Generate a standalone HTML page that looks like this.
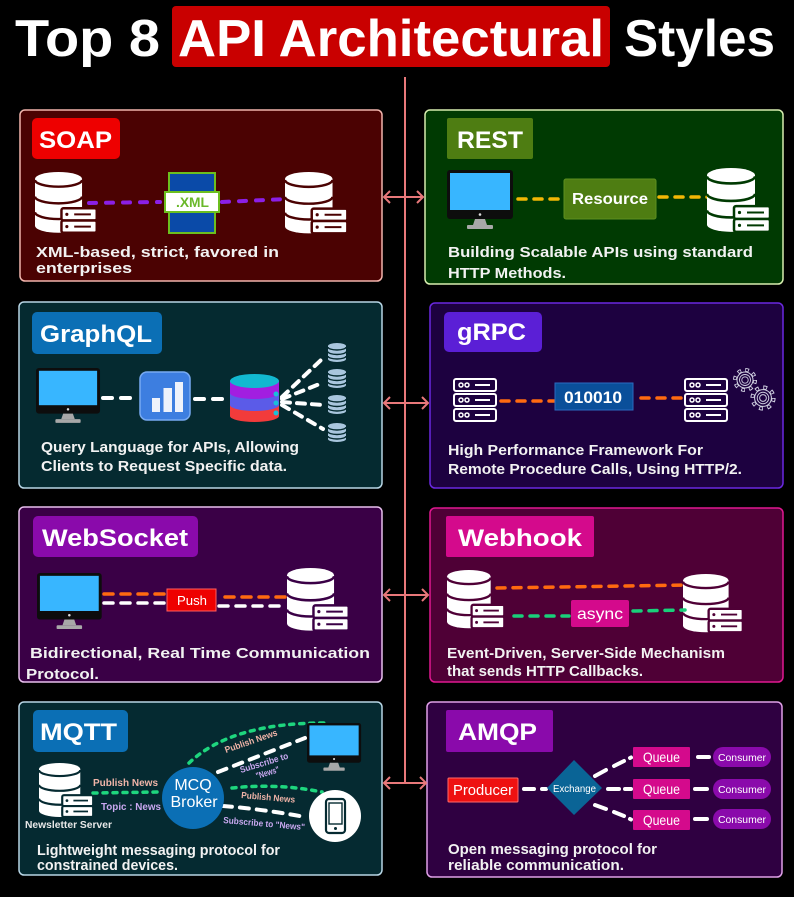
<!DOCTYPE html>
<html><head><meta charset="utf-8">
<style>
html,body{margin:0;padding:0;background:#000;}
svg{display:block;}
text{font-family:"Liberation Sans",Arial,sans-serif;}
</style></head><body>
<svg width="794" height="897" viewBox="0 0 794 897" xmlns="http://www.w3.org/2000/svg">
<defs>
 <g id="db">
  <path d="M0,7 A24,7 0 0 1 48,7 L48,55 A24,7 0 0 1 0,55 Z" fill="#fff"/>
  <path d="M0,8 A24,7 0 0 0 48,8" fill="none" stroke="currentColor" stroke-width="2.5"/>
  <path d="M0,25 A24,7 0 0 0 48,25" fill="none" stroke="currentColor" stroke-width="2.5"/>
  <path d="M0,41 A24,7 0 0 0 48,41" fill="none" stroke="currentColor" stroke-width="2.5"/>
  <rect x="27" y="37" width="36" height="12.5" rx="2" fill="#fff" stroke="currentColor" stroke-width="2.5"/>
  <rect x="27" y="49.5" width="36" height="12.5" rx="2" fill="#fff" stroke="currentColor" stroke-width="2.5"/>
  <circle cx="32.5" cy="43.2" r="1.6" fill="currentColor"/>
  <circle cx="32.5" cy="55.7" r="1.6" fill="currentColor"/>
  <line x1="40" y1="43.2" x2="57" y2="43.2" stroke="currentColor" stroke-width="2"/>
  <line x1="40" y1="55.7" x2="57" y2="55.7" stroke="currentColor" stroke-width="2"/>
 </g>
 <g id="mon">
  <rect x="0" y="0" width="66" height="49" rx="3" fill="#0d0d0d"/>
  <rect x="3" y="3" width="60" height="37" fill="#38b6ff"/>
  <circle cx="33" cy="44.5" r="1.3" fill="#ddd"/>
  <path d="M28,49 L38,49 L40,55 L26,55 Z" fill="#a8a8a8"/>
  <rect x="20" y="55" width="26" height="4" rx="1" fill="#a8a8a8"/>
 </g>
 <g id="srv" fill="none" stroke="#fff" stroke-width="2">
  <rect x="1" y="1" width="42" height="12" rx="2"/>
  <rect x="1" y="16" width="42" height="12" rx="2"/>
  <rect x="1" y="31" width="42" height="12" rx="2"/>
  <circle cx="8" cy="7" r="2" stroke-width="1.5"/><circle cx="14" cy="7" r="2" stroke-width="1.5"/>
  <circle cx="8" cy="22" r="2" stroke-width="1.5"/><circle cx="14" cy="22" r="2" stroke-width="1.5"/>
  <circle cx="8" cy="37" r="2" stroke-width="1.5"/><circle cx="14" cy="37" r="2" stroke-width="1.5"/>
  <line x1="22" y1="7" x2="37" y2="7"/><line x1="22" y1="22" x2="37" y2="22"/><line x1="22" y1="37" x2="37" y2="37"/>
 </g>
 <g id="sdb">
  <path d="M0,3 A9,3 0 0 1 18,3 L18,16 A9,3 0 0 1 0,16 Z" fill="#a9c6de"/>
  <path d="M0,4 A9,3 0 0 0 18,4" fill="none" stroke="#052a30" stroke-width="1.4"/>
  <path d="M0,8.5 A9,3 0 0 0 18,8.5" fill="none" stroke="#052a30" stroke-width="1.4"/>
  <path d="M0,13 A9,3 0 0 0 18,13" fill="none" stroke="#052a30" stroke-width="1.4"/>
 </g>
 <g id="gear">
  <circle r="10" fill="none" stroke="#cfcfe0" stroke-width="4" stroke-dasharray="3.6 4.25"/>
  <circle r="10" fill="none" stroke="#1d0140" stroke-width="2" stroke-dasharray="2 5.85" stroke-dashoffset="-0.8"/>
  <circle r="8" fill="#1d0140" stroke="#cfcfe0" stroke-width="1"/>
  <circle r="5.5" fill="none" stroke="#cfcfe0" stroke-width="0.9"/>
  <circle r="3.2" fill="none" stroke="#cfcfe0" stroke-width="0.9"/>
 </g>
</defs>
<rect width="794" height="897" fill="#000"/>

<!-- Title -->
<rect x="172" y="6" width="438" height="61" rx="4" fill="#c90000"/>
<text x="15" y="56" font-size="52" font-weight="bold" fill="#fff" textLength="145" lengthAdjust="spacingAndGlyphs">Top 8</text>
<text x="178" y="56" font-size="52" font-weight="bold" fill="#fff" textLength="426" lengthAdjust="spacingAndGlyphs">API Architectural</text>
<text x="624" y="56" font-size="52" font-weight="bold" fill="#fff" textLength="151" lengthAdjust="spacingAndGlyphs">Styles</text>

<!-- Panels -->
<rect x="20" y="110" width="362" height="171" rx="5" fill="#4b0202" stroke="#f2b4ac" stroke-width="1.5"/>
<rect x="425" y="110" width="358" height="174" rx="5" fill="#003a02" stroke="#d8eeb0" stroke-width="1.5"/>
<rect x="19" y="302" width="363" height="186" rx="5" fill="#052a30" stroke="#b8d6e6" stroke-width="1.5"/>
<rect x="430" y="303" width="353" height="185" rx="5" fill="#1d0140" stroke="#6a28e0" stroke-width="1.5"/>
<rect x="19" y="507" width="363" height="175" rx="5" fill="#3a0046" stroke="#e8c0ee" stroke-width="1.5"/>
<rect x="430" y="508" width="353" height="174" rx="5" fill="#4f0036" stroke="#e01890" stroke-width="1.5"/>
<rect x="19" y="702" width="363" height="173" rx="5" fill="#052a31" stroke="#b8d6e6" stroke-width="1.5"/>
<rect x="427" y="702" width="355" height="175" rx="5" fill="#2f0041" stroke="#e0a0e8" stroke-width="1.5"/>

<!-- Central connectors -->
<g stroke="#e8787a" stroke-width="2" fill="none">
 <line x1="405" y1="77" x2="405" y2="784"/>
 <line x1="384" y1="197" x2="423" y2="197"/>
 <path d="M390,191 L384,197 L390,203 M417,191 L423,197 L417,203"/>
 <line x1="384" y1="403" x2="428" y2="403"/>
 <path d="M390,397 L384,403 L390,409 M422,397 L428,403 L422,409"/>
 <line x1="384" y1="595" x2="428" y2="595"/>
 <path d="M390,589 L384,595 L390,601 M422,589 L428,595 L422,601"/>
 <line x1="384" y1="783" x2="426" y2="783"/>
 <path d="M390,777 L384,783 L390,789 M420,777 L426,783 L420,789"/>
</g>

<!-- SOAP -->
<rect x="32" y="118" width="88" height="41" rx="5" fill="#ee0000"/>
<text x="39" y="148" font-size="24" font-weight="bold" fill="#fff" textLength="73" lengthAdjust="spacingAndGlyphs">SOAP</text>
<use href="#db" transform="translate(35,172) scale(0.98)" color="#4b0202"/>
<use href="#db" transform="translate(285,172) scale(0.99)" color="#4b0202"/>
<g stroke="#8b1fe6" stroke-width="4" stroke-linecap="round" stroke-dasharray="7 10" fill="none">
 <line x1="89" y1="203" x2="160" y2="202"/>
 <line x1="222" y1="202" x2="287" y2="199"/>
</g>
<rect x="169" y="173" width="46" height="60" fill="#0a4aa8" stroke="#6cbf1f" stroke-width="2"/>
<rect x="165" y="192" width="54" height="20" fill="#fff" stroke="#6cbf1f" stroke-width="2"/>
<text x="176" y="207" font-size="14" font-weight="bold" fill="#6ab82a" textLength="33" lengthAdjust="spacingAndGlyphs">.XML</text>
<text x="36" y="257" font-size="15" font-weight="bold" fill="#f2f2f2" textLength="243" lengthAdjust="spacingAndGlyphs">XML-based, strict, favored in</text>
<text x="36" y="273" font-size="15" font-weight="bold" fill="#f2f2f2" textLength="96" lengthAdjust="spacingAndGlyphs">enterprises</text>

<!-- REST -->
<rect x="447" y="118" width="86" height="41" rx="2" fill="#4e7d12"/>
<text x="457" y="148" font-size="24" font-weight="bold" fill="#fff" textLength="66" lengthAdjust="spacingAndGlyphs">REST</text>
<use href="#mon" transform="translate(447,170)"/>
<g stroke="#f2b705" stroke-width="3.5" stroke-linecap="round" stroke-dasharray="8 8" fill="none">
 <line x1="518" y1="199" x2="562" y2="199"/>
 <line x1="659" y1="197" x2="708" y2="197"/>
</g>
<rect x="564" y="179" width="92" height="40" rx="2" fill="#4e7d12" stroke="#5d9020"/>
<text x="572" y="204" font-size="16" font-weight="bold" fill="#fff" textLength="76" lengthAdjust="spacingAndGlyphs">Resource</text>
<use href="#db" transform="translate(707,168) scale(1.0,1.03)" color="#003a02"/>
<text x="448" y="257" font-size="15" font-weight="bold" fill="#f2f2f2" textLength="305" lengthAdjust="spacingAndGlyphs">Building Scalable APIs using standard</text>
<text x="448" y="278" font-size="15" font-weight="bold" fill="#f2f2f2" textLength="118" lengthAdjust="spacingAndGlyphs">HTTP Methods.</text>

<!-- GraphQL -->
<rect x="32" y="312" width="130" height="42" rx="5" fill="#0b6fb5"/>
<text x="40" y="342" font-size="24" font-weight="bold" fill="#fff" textLength="112" lengthAdjust="spacingAndGlyphs">GraphQL</text>
<use href="#mon" transform="translate(36,368) scale(0.97,0.93)"/>
<g stroke="#fff" stroke-width="4" stroke-linecap="round" stroke-dasharray="9 9" fill="none">
 <line x1="103" y1="398" x2="136" y2="398"/>
 <line x1="195" y1="399" x2="228" y2="399"/>
 <line x1="282" y1="397" x2="321" y2="360" stroke-dasharray="8 7"/>
 <line x1="282" y1="399" x2="322" y2="383" stroke-dasharray="8 7"/>
 <line x1="282" y1="402" x2="323" y2="405" stroke-dasharray="8 7"/>
 <line x1="282" y1="405" x2="323" y2="429" stroke-dasharray="8 7"/>
</g>
<rect x="140" y="372" width="50" height="48" rx="7" fill="#3d7ee0" stroke="#78aaf2" stroke-width="1.5"/>
<rect x="152" y="398" width="8" height="14" fill="#eef2fb"/>
<rect x="163.5" y="388" width="8.5" height="24" fill="#eef2fb"/>
<rect x="175" y="382" width="8" height="30" fill="#eef2fb"/>
<path d="M230,381 V416 A24.5,6 0 0 0 279,416 V381 Z" fill="#f23b3b"/>
<path d="M230,381 V405 A24.5,6 0 0 0 279,405 V381 Z" fill="#5b5be8"/>
<path d="M230,381 V393 A24.5,6 0 0 0 279,393 V381 Z" fill="#a21ee0"/>
<ellipse cx="254.5" cy="381" rx="24.5" ry="7" fill="#12b8d0"/>
<circle cx="276" cy="394" r="2.5" fill="#19c0d8"/>
<circle cx="276" cy="403" r="2.5" fill="#19c0d8"/>
<circle cx="276" cy="413" r="2.5" fill="#19c0d8"/>
<use href="#sdb" transform="translate(328,343)"/>
<use href="#sdb" transform="translate(328,369)"/>
<use href="#sdb" transform="translate(328,395)"/>
<use href="#sdb" transform="translate(328,423)"/>
<text x="41" y="452" font-size="15" font-weight="bold" fill="#f2f2f2" textLength="258" lengthAdjust="spacingAndGlyphs">Query Language for APIs, Allowing</text>
<text x="41" y="471" font-size="15" font-weight="bold" fill="#f2f2f2" textLength="246" lengthAdjust="spacingAndGlyphs">Clients to Request Specific data.</text>

<!-- gRPC -->
<rect x="444" y="312" width="98" height="40" rx="5" fill="#5b1fd6"/>
<text x="457" y="340" font-size="24" font-weight="bold" fill="#fff" textLength="69" lengthAdjust="spacingAndGlyphs">gRPC</text>
<use href="#srv" transform="translate(453,378)"/>
<use href="#srv" transform="translate(684,378)"/>
<g stroke="#ff6a10" stroke-width="3.5" stroke-linecap="round" stroke-dasharray="8 8" fill="none">
 <line x1="501" y1="401" x2="554" y2="401"/>
 <line x1="641" y1="398" x2="686" y2="398"/>
</g>
<rect x="555" y="383" width="78" height="27" fill="#0a4f9a" stroke="#2a6ac0" stroke-width="1"/>
<text x="564" y="403" font-size="17" font-weight="bold" fill="#fff" textLength="58" lengthAdjust="spacingAndGlyphs">010010</text>
<use href="#gear" transform="translate(745,380)"/>
<use href="#gear" transform="translate(763,398) scale(1.05)"/>
<text x="448" y="455" font-size="15" font-weight="bold" fill="#f2f2f2" textLength="255" lengthAdjust="spacingAndGlyphs">High Performance Framework For</text>
<text x="448" y="474" font-size="15" font-weight="bold" fill="#f2f2f2" textLength="294" lengthAdjust="spacingAndGlyphs">Remote Procedure Calls, Using HTTP/2.</text>

<!-- WebSocket -->
<rect x="33" y="516" width="165" height="41" rx="5" fill="#8a0aab"/>
<text x="42" y="546" font-size="24" font-weight="bold" fill="#fff" textLength="146" lengthAdjust="spacingAndGlyphs">WebSocket</text>
<use href="#mon" transform="translate(37,573) scale(0.98,0.95)"/>
<g stroke-width="3.5" stroke-linecap="round" stroke-dasharray="9 8" fill="none">
 <line x1="104" y1="594" x2="166" y2="594" stroke="#ff6a10"/>
 <line x1="225" y1="597" x2="292" y2="597" stroke="#ff6a10"/>
 <line x1="104" y1="603" x2="165" y2="603" stroke="#fff"/>
 <line x1="219" y1="606" x2="287" y2="606" stroke="#fff"/>
</g>
<rect x="167" y="589" width="49" height="22" fill="#ee0000" stroke="#ff6060" stroke-width="1"/>
<text x="177" y="605" font-size="13" fill="#fff" textLength="30" lengthAdjust="spacingAndGlyphs">Push</text>
<use href="#db" transform="translate(287,568) scale(0.98,1.01)" color="#3a0046"/>
<text x="30" y="658" font-size="15" font-weight="bold" fill="#f2f2f2" textLength="340" lengthAdjust="spacingAndGlyphs">Bidirectional, Real Time Communication</text>
<text x="26" y="679" font-size="15" font-weight="bold" fill="#f2f2f2" textLength="73" lengthAdjust="spacingAndGlyphs">Protocol.</text>

<!-- Webhook -->
<rect x="446" y="516" width="148" height="41" rx="2" fill="#d40a8c"/>
<text x="458" y="546" font-size="24" font-weight="bold" fill="#fff" textLength="124" lengthAdjust="spacingAndGlyphs">Webhook</text>
<use href="#db" transform="translate(447,570) scale(0.91,0.94)" color="#4f0036"/>
<use href="#db" transform="translate(683,574) scale(0.95,0.94)" color="#4f0036"/>
<g stroke-width="3.5" stroke-linecap="round" stroke-dasharray="8 8" fill="none">
 <line x1="497" y1="588" x2="686" y2="585" stroke="#ff6a10"/>
 <line x1="514" y1="616" x2="569" y2="616" stroke="#19d07a"/>
 <line x1="633" y1="611" x2="685" y2="610" stroke="#19d07a"/>
</g>
<rect x="571" y="600" width="58" height="27" rx="2" fill="#d40a8c"/>
<text x="577" y="619" font-size="16" fill="#fff" textLength="46" lengthAdjust="spacingAndGlyphs">async</text>
<text x="447" y="658" font-size="15" font-weight="bold" fill="#f2f2f2" textLength="278" lengthAdjust="spacingAndGlyphs">Event-Driven, Server-Side Mechanism</text>
<text x="447" y="676" font-size="15" font-weight="bold" fill="#f2f2f2" textLength="196" lengthAdjust="spacingAndGlyphs">that sends HTTP Callbacks.</text>

<!-- MQTT -->
<rect x="33" y="710" width="95" height="42" rx="5" fill="#0b6fb5"/>
<text x="40" y="740" font-size="24" font-weight="bold" fill="#fff" textLength="77" lengthAdjust="spacingAndGlyphs">MQTT</text>
<use href="#db" transform="translate(39,763) scale(0.86,0.87)" color="#052a31"/>
<text x="25" y="828" font-size="10" font-weight="bold" fill="#e8e8e8" textLength="87" lengthAdjust="spacingAndGlyphs">Newsletter Server</text>
<text x="93" y="786" font-size="10" font-weight="bold" fill="#f0b4a8" textLength="65" lengthAdjust="spacingAndGlyphs">Publish News</text>
<text x="101" y="810" font-size="10" font-weight="bold" fill="#c9a8f0" textLength="60" lengthAdjust="spacingAndGlyphs">Topic : News</text>
<g stroke="#1ed67e" stroke-width="3.5" stroke-linecap="round" stroke-dasharray="4 6" fill="none">
 <line x1="93" y1="793" x2="158" y2="792"/>
 <path d="M189,763 Q232,722 328,723"/>
 <path d="M232,788 Q277,783 322,792"/>
</g>
<g stroke="#fff" stroke-width="4" stroke-linecap="round" stroke-dasharray="9 8" fill="none">
 <line x1="218" y1="772" x2="305" y2="738"/>
 <path d="M223,806 Q262,809 305,817"/>
</g>
<circle cx="193" cy="798" r="31" fill="#0b6fb5"/>
<text x="193" y="790" font-size="16" fill="#fff" text-anchor="middle">MCQ</text>
<text x="194" y="807" font-size="16" fill="#fff" text-anchor="middle">Broker</text>
<use href="#mon" transform="translate(307,723) scale(0.82,0.81)"/>
<circle cx="335" cy="816" r="26" fill="#fff"/>
<rect x="326" y="799" width="19" height="34" rx="3" fill="none" stroke="#052a31" stroke-width="2.2"/>
<rect x="329" y="803" width="13" height="21" fill="none" stroke="#052a31" stroke-width="1.4"/>
<circle cx="335.5" cy="828.5" r="1.5" fill="#052a31"/>
<text x="0" y="0" font-size="9" font-weight="bold" fill="#f0b4a8" textLength="55" lengthAdjust="spacingAndGlyphs" transform="translate(226,753) rotate(-19)">Publish News</text>
<text x="0" y="0" font-size="9" font-weight="bold" fill="#c9a8f0" textLength="50" lengthAdjust="spacingAndGlyphs" transform="translate(241,773) rotate(-17)">Subscribe to</text>
<text x="0" y="0" font-size="9" font-weight="bold" fill="#c9a8f0" textLength="24" lengthAdjust="spacingAndGlyphs" transform="translate(257,779) rotate(-17)">"News"</text>
<text x="0" y="0" font-size="9" font-weight="bold" fill="#f0b4a8" textLength="54" lengthAdjust="spacingAndGlyphs" transform="translate(241,798) rotate(5)">Publish News</text>
<text x="0" y="0" font-size="9" font-weight="bold" fill="#c9a8f0" textLength="82" lengthAdjust="spacingAndGlyphs" transform="translate(223,823) rotate(5)">Subscribe to "News"</text>
<text x="37" y="855" font-size="15" font-weight="bold" fill="#f2f2f2" textLength="243" lengthAdjust="spacingAndGlyphs">Lightweight messaging protocol for</text>
<text x="37" y="870" font-size="15" font-weight="bold" fill="#f2f2f2" textLength="141" lengthAdjust="spacingAndGlyphs">constrained devices.</text>

<!-- AMQP -->
<rect x="446" y="710" width="107" height="42" rx="2" fill="#8a0aab"/>
<text x="458" y="740" font-size="24" font-weight="bold" fill="#fff" textLength="79" lengthAdjust="spacingAndGlyphs">AMQP</text>
<rect x="448" y="778" width="70" height="24" rx="1" fill="#ee1111" stroke="#ff6a6a" stroke-width="1"/>
<text x="453" y="795" font-size="15" fill="#fff" textLength="60" lengthAdjust="spacingAndGlyphs">Producer</text>
<g stroke="#fff" stroke-width="4" stroke-linecap="round" fill="none">
 <line x1="524" y1="789" x2="534" y2="789"/>
 <line x1="542" y1="789" x2="546" y2="789"/>
 <line x1="595" y1="776" x2="606" y2="770"/>
 <line x1="614" y1="766" x2="624" y2="761"/>
 <line x1="630" y1="758" x2="631" y2="757.5"/>
 <line x1="608" y1="789" x2="619" y2="789"/>
 <line x1="625" y1="789" x2="631" y2="789"/>
 <line x1="595" y1="805" x2="606" y2="809"/>
 <line x1="614" y1="812" x2="624" y2="816"/>
 <line x1="630" y1="819" x2="631" y2="819.5"/>
 <line x1="698" y1="757" x2="709" y2="757"/>
 <line x1="695" y1="789" x2="707" y2="789"/>
 <line x1="695" y1="819" x2="707" y2="819"/>
</g>
<polygon points="574,760 602,788 574,815 547,788" fill="#0a6496"/>
<text x="553" y="792" font-size="10" fill="#fff" textLength="43" lengthAdjust="spacingAndGlyphs">Exchange</text>
<rect x="633" y="747" width="57" height="20" rx="1" fill="#d40a8c"/>
<rect x="633" y="779" width="57" height="20" rx="1" fill="#d40a8c"/>
<rect x="633" y="810" width="57" height="20" rx="1" fill="#d40a8c"/>
<text x="643" y="762" font-size="14" fill="#fff" textLength="37" lengthAdjust="spacingAndGlyphs">Queue</text>
<text x="643" y="794" font-size="14" fill="#fff" textLength="37" lengthAdjust="spacingAndGlyphs">Queue</text>
<text x="643" y="825" font-size="14" fill="#fff" textLength="37" lengthAdjust="spacingAndGlyphs">Queue</text>
<rect x="713" y="747" width="58" height="20" rx="10" fill="#8a0aab"/>
<rect x="713" y="779" width="58" height="20" rx="10" fill="#8a0aab"/>
<rect x="713" y="809" width="58" height="20" rx="10" fill="#8a0aab"/>
<text x="718" y="761" font-size="10.5" fill="#fff" textLength="48" lengthAdjust="spacingAndGlyphs">Consumer</text>
<text x="718" y="793" font-size="10.5" fill="#fff" textLength="48" lengthAdjust="spacingAndGlyphs">Consumer</text>
<text x="718" y="823" font-size="10.5" fill="#fff" textLength="48" lengthAdjust="spacingAndGlyphs">Consumer</text>
<text x="448" y="854" font-size="15" font-weight="bold" fill="#f2f2f2" textLength="209" lengthAdjust="spacingAndGlyphs">Open messaging protocol for</text>
<text x="448" y="870" font-size="15" font-weight="bold" fill="#f2f2f2" textLength="176" lengthAdjust="spacingAndGlyphs">reliable communication.</text>
</svg>
</body></html>
